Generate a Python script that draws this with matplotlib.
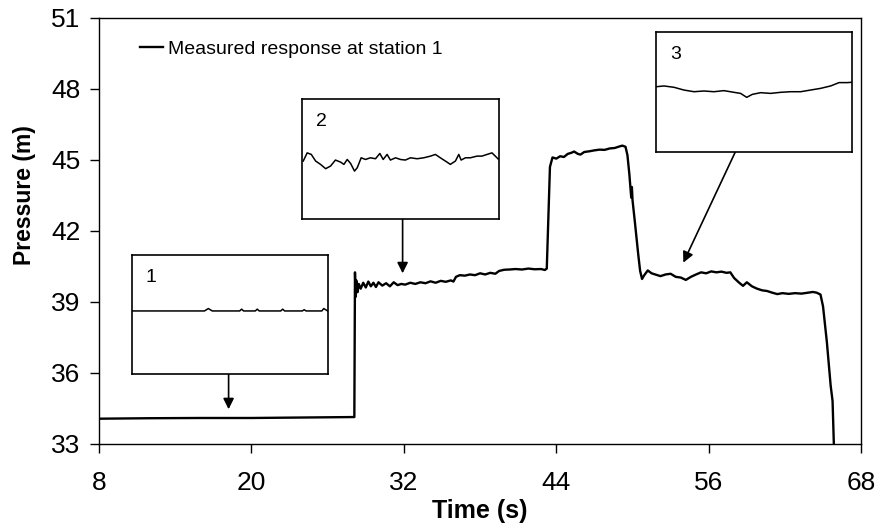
import matplotlib
matplotlib.use("Agg")
import matplotlib.pyplot as plt

plt.rcParams['font.family'] = ['Liberation Sans', 'DejaVu Sans']

# main trace: time (s) and pressure (m)
time_s = [8, 12, 16, 20, 24, 28.05, 28.1, 28.15, 28.2, 28.25, 28.35, 28.45, 28.6, 28.8,
          29.0, 29.2, 29.4, 29.6, 29.8, 30.0, 30.3, 30.6, 30.9, 31.2, 31.5, 31.8, 32.1,
          32.5, 32.9, 33.3, 33.7, 34.1, 34.5, 34.9, 35.3, 35.7, 35.9, 36.1, 36.4, 36.8,
          37.2, 37.6, 38.0, 38.4, 38.8, 39.2, 39.5, 39.9, 40.3, 40.8, 41.3, 41.8, 42.3,
          42.8, 43.1, 43.25, 43.5, 43.7, 44.0, 44.3, 44.6, 44.9, 45.2, 45.4, 45.7, 45.9,
          46.2, 46.6, 47.0, 47.4, 47.8, 48.2, 48.6, 49.0, 49.2, 49.45, 49.6, 49.75, 49.9,
          49.95, 50.0, 50.2, 50.45, 50.6, 50.75, 50.9, 51.2, 51.5, 51.8, 52.2, 52.6, 53.0,
          53.4, 53.8, 54.2, 54.6, 55.0, 55.4, 55.8, 56.2, 56.6, 57.0, 57.4, 57.7, 58.0,
          58.4, 58.7, 59.0, 59.4, 59.8, 60.2, 60.6, 61.0, 61.4, 61.8, 62.3, 62.8, 63.3,
          63.8, 64.2, 64.5, 64.8, 65.0, 65.3, 65.6, 65.75, 65.85, 65.9]
pressure_m = [34.05, 34.07, 34.08, 34.08, 34.1, 34.12, 34.12, 40.24, 39.2, 39.9, 39.4, 39.75,
              39.55, 39.8, 39.6, 39.85, 39.65, 39.8, 39.62, 39.82, 39.68, 39.78, 39.65, 39.82,
              39.7, 39.75, 39.72, 39.8, 39.75, 39.82, 39.78, 39.86, 39.8, 39.88, 39.84, 39.9,
              39.85, 40.05, 40.12, 40.1, 40.15, 40.12, 40.2, 40.15, 40.22, 40.18, 40.3, 40.35,
              40.36, 40.38, 40.36, 40.4, 40.37, 40.38, 40.34, 40.4, 44.7, 45.1, 45.05, 45.15,
              45.12, 45.25, 45.3, 45.35, 45.25, 45.22, 45.33, 45.36, 45.4, 45.43, 45.42, 45.48,
              45.5, 45.57, 45.6, 45.55, 45.2, 44.4, 43.4, 43.85, 43.3, 42.3, 41.0, 40.3, 39.96,
              40.1, 40.32, 40.2, 40.15, 40.08, 40.15, 40.18, 40.05, 40.02, 39.92, 40.05, 40.15,
              40.24, 40.2, 40.28, 40.24, 40.27, 40.22, 40.24, 40.0, 39.8, 39.67, 39.82, 39.65,
              39.55, 39.48, 39.45, 39.38, 39.32, 39.36, 39.33, 39.36, 39.34, 39.38, 39.41,
              39.38, 39.3, 38.8, 37.3, 35.45, 34.8, 33.0, 32.5]

# close-up traces inside the three boxes (box-relative 0..1)
zoom1_x = [0.0, 0.2, 0.37, 0.39, 0.41, 0.55, 0.56, 0.57, 0.63, 0.64, 0.65, 0.76, 0.77,
           0.78, 0.87, 0.88, 0.89, 0.97, 0.98, 1.0]
zoom1_y = [0.53, 0.53, 0.53, 0.55, 0.53, 0.53, 0.545, 0.53, 0.53, 0.545, 0.53, 0.53,
           0.545, 0.53, 0.53, 0.54, 0.53, 0.53, 0.55, 0.53]
zoom2_x = [0.005, 0.025, 0.046, 0.068, 0.093, 0.119, 0.144, 0.169, 0.195, 0.212, 0.229,
           0.246, 0.266, 0.28, 0.3, 0.322, 0.347, 0.373, 0.395, 0.412, 0.432, 0.449,
           0.475, 0.5, 0.525, 0.551, 0.585, 0.619, 0.653, 0.678, 0.703, 0.737, 0.754,
           0.78, 0.797, 0.809, 0.831, 0.856, 0.89, 0.915, 0.941, 0.966, 0.983, 1.0]
zoom2_y = [0.481, 0.549, 0.536, 0.481, 0.453, 0.417, 0.439, 0.489, 0.472, 0.453, 0.494,
           0.461, 0.397, 0.425, 0.508, 0.494, 0.508, 0.5, 0.544, 0.494, 0.536, 0.489,
           0.508, 0.494, 0.489, 0.508, 0.5, 0.508, 0.522, 0.536, 0.508, 0.472, 0.453,
           0.481, 0.536, 0.489, 0.508, 0.508, 0.522, 0.522, 0.536, 0.549, 0.522, 0.494]
zoom3_x = [0.002, 0.039, 0.09, 0.141, 0.192, 0.243, 0.294, 0.345, 0.396, 0.43, 0.461,
           0.49, 0.532, 0.583, 0.634, 0.685, 0.736, 0.787, 0.838, 0.889, 0.932, 0.974, 1.0]
zoom3_y = [0.543, 0.549, 0.538, 0.515, 0.501, 0.507, 0.501, 0.51, 0.496, 0.487, 0.454,
           0.479, 0.493, 0.487, 0.496, 0.501, 0.501, 0.515, 0.529, 0.549, 0.577, 0.577, 0.58]

box_labels = ['1', '2', '3']
# box extents in data units: (t_left, P_bottom, width, height)
boxes = [(10.6, 35.92, 15.4, 5.07), (24.0, 42.51, 15.46, 5.07), (51.87, 45.34, 15.44, 5.07)]
zoom_x = [zoom1_x, zoom2_x, zoom3_x]
zoom_y = [zoom1_y, zoom2_y, zoom3_y]
# arrows: (tail, head) in data units
arrows = [((18.2, 35.92), (18.2, 34.45)), ((31.9, 42.51), (31.9, 40.2)),
          ((58.1, 45.34), (54.0, 40.65))]

fig = plt.figure(figsize=(8.78, 5.28), dpi=100)
ax = fig.add_axes([0.1128, 0.16, 0.868, 0.806])
ax.plot(time_s, pressure_m, color='black', lw=1.7, label='Measured response at station 1')
ax.set_xlim(8, 68)
ax.set_ylim(33, 51)
ax.set_xticks(range(8, 69, 12))
ax.set_yticks(range(33, 52, 3))
ax.tick_params(direction='out', length=6.5, width=1, labelsize=19, top=False, right=False)
ax.tick_params(axis='x', pad=13)
ax.tick_params(axis='y', pad=7)
ax.set_xlabel('Time (s)', fontsize=18, fontweight='bold', labelpad=3)
ax.set_ylabel('Pressure (m)', fontsize=16.5, fontweight='bold')
ax.yaxis.set_label_coords(-0.083, 0.585)
for s in ax.spines.values():
    s.set_linewidth(1.0)

leg = ax.legend(loc='upper left', bbox_to_anchor=(0.044, 0.966), frameon=False,
                fontsize=14, handlelength=1.15, handletextpad=0.25, borderaxespad=0)

for i in range(3):
    ins = ax.inset_axes(boxes[i], transform=ax.transData)
    ins.plot(zoom_x[i], zoom_y[i], color='black', lw=1.1)
    ins.set_xlim(0, 1)
    ins.set_ylim(0, 1)
    ins.set_xticks([])
    ins.set_yticks([])
    for s in ins.spines.values():
        s.set_linewidth(1.2)
    ins.text(0.07, 0.77, box_labels[i], transform=ins.transAxes, fontsize=14)
    ax.annotate('', xy=arrows[i][1], xytext=arrows[i][0],
                arrowprops=dict(arrowstyle='-|>', color='black', lw=1.2,
                                mutation_scale=16, shrinkA=0, shrinkB=0))

fig.savefig('out.png', dpi=100)
